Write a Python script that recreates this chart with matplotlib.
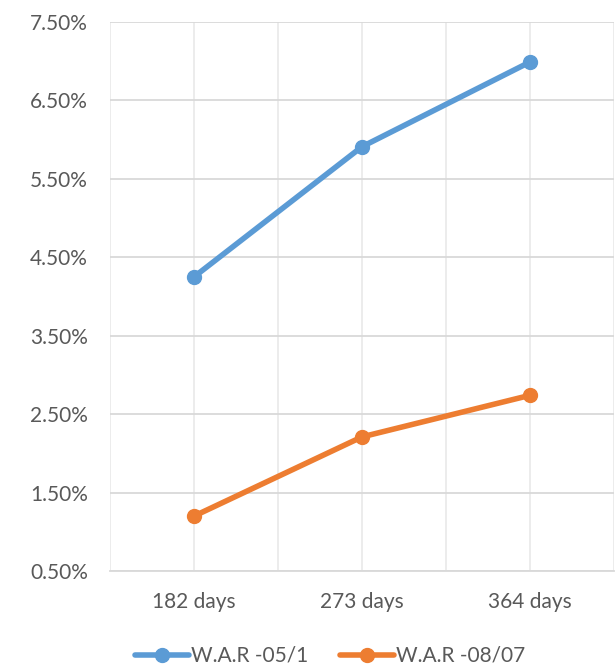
import matplotlib
matplotlib.use("Agg")
import matplotlib.pyplot as plt
from matplotlib.ticker import FuncFormatter, MultipleLocator

plt.rcParams["font.family"] = ["Lato", "DejaVu Sans"]

categories = ["182 days", "273 days", "364 days"]
war_05_1 = [4.25, 5.91, 6.99]
war_08_07 = [1.20, 2.21, 2.74]
series_names = ["W.A.R -05/1", "W.A.R -08/07"]
y_ticks = [0.5, 1.5, 2.5, 3.5, 4.5, 5.5, 6.5, 7.5]

BLUE = "#5B9BD5"
ORANGE = "#ED7D31"
TEXT = "#595959"

fig = plt.figure(figsize=(6.16, 6.66), dpi=100)
ax = fig.add_axes([110 / 616, 1 - 571 / 666, 504 / 616, 549 / 666])

x = [i + 0.5 for i in range(len(categories))]
ax.plot(x, war_05_1, color=BLUE, lw=4, marker="o", ms=10, label=series_names[0],
        solid_capstyle="round", zorder=3)
ax.plot(x, war_08_07, color=ORANGE, lw=4, marker="o", ms=10, label=series_names[1],
        solid_capstyle="round", zorder=3)

ax.set_xlim(0, len(categories))
ax.set_ylim(y_ticks[0], y_ticks[-1])
ax.set_yticks(y_ticks)
ax.yaxis.set_major_formatter(FuncFormatter(lambda v, _: f"{v:.2f}%"))
ax.set_xticks(x)
ax.set_xticklabels(categories)
ax.xaxis.set_minor_locator(MultipleLocator(0.5))

ax.grid(axis="y", which="major", color="#D9D9D9", lw=1.3)
ax.grid(axis="x", which="both", color="#EBEBEB", lw=1.3)
ax.set_axisbelow(True)
for s in ["top", "right", "left"]:
    ax.spines[s].set_visible(False)
ax.spines["bottom"].set_color("#D9D9D9")
ax.spines["bottom"].set_linewidth(1.3)
ax.tick_params(which="both", length=0)
ax.tick_params(axis="y", labelsize=15, labelcolor=TEXT, pad=16)
ax.tick_params(axis="x", labelsize=15, labelcolor=TEXT, pad=15)

fig.legend(loc="center", bbox_to_anchor=(330 / 616, 1 - 656 / 666), ncol=2, frameon=False,
           fontsize=15, labelcolor=TEXT, handlelength=2.6, handletextpad=0.1,
           columnspacing=1.5)

fig.savefig("out.png", dpi=100)
